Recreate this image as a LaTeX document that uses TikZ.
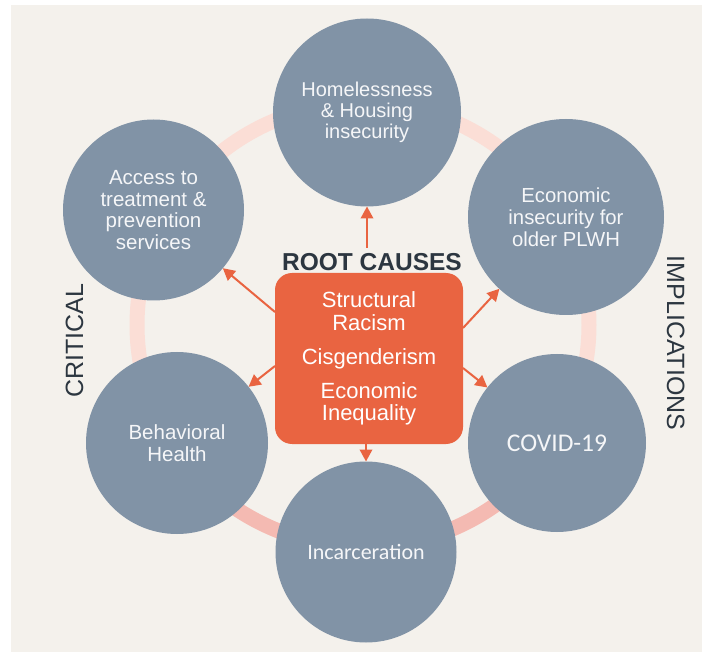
\documentclass[tikz,border=0pt]{standalone}
\usepackage{fontspec}
\setmainfont{Liberation Sans}
\newfontfamily\carlito{Carlito}
\usetikzlibrary{arrows.meta}
\definecolor{bgc}{RGB}{244,241,236}
\definecolor{slate}{RGB}{129,147,166}
\definecolor{orng}{RGB}{233,100,65}
\definecolor{ringl}{RGB}{251,222,214}
\definecolor{ringd}{RGB}{244,186,178}
\definecolor{dtext}{RGB}{44,54,64}
\definecolor{btext}{RGB}{245,246,248}
\begin{document}
\begin{tikzpicture}[x=1pt,y=-1pt,
  bub/.style={circle, fill=slate, inner sep=0pt, outer sep=0pt, text=btext, align=center},
  arr/.style={draw=orng, line width=2pt, -{Triangle[length=12pt,width=12.5pt]}},
  sidelabel/.style={anchor=base, inner sep=0pt, text=dtext, font=\fontsize{25}{26}\selectfont},
]
\useasboundingbox (0,0) rectangle (702,652);
\fill[white] (0,0) rectangle (702,652);
\fill[bgc] (11,5) rectangle (702,652);
% ring
\coordinate (ringc) at (363,325);
\draw[ringl, line width=15pt] (ringc) ellipse [x radius=226, y radius=222];
\draw[ringd, line width=15pt] (ringc) ++(40:226 and 222) arc[start angle=40, end angle=140, x radius=226, y radius=222];
% circles
\node[bub, minimum size=188pt, font=\fontsize{20}{21}\selectfont] (home) at (367,112.5) {Homelessness\\\& Housing\\insecurity};
\node[bub, minimum size=181pt, font=\fontsize{20.5}{21.7}\selectfont] (acc) at (153.5,210) {Access to\\treatment \&\\prevention\\services};
\node[bub, minimum size=196pt, font=\fontsize{20.3}{22}\selectfont] (econ) at (566,217) {Economic\\insecurity for\\older PLWH};
\node[bub, minimum size=182pt, font=\fontsize{20.5}{22}\selectfont] (beh) at (177,443) {Behavioral\\Health};
\node[bub, minimum size=178pt, font=\carlito\fontsize{25.5}{26}\selectfont] (covid) at (557,443) {COVID-19};
\node[bub, minimum size=181pt, font=\carlito\fontsize{22}{24}\selectfont] (inc) at (366,552) {Incarceration};
% centre box
\node[fill=orng, rounded corners=17pt, minimum width=188pt, minimum height=171pt, inner sep=0pt, outer sep=0pt, text=white, align=center, font=\fontsize{22}{22.5}\selectfont] (box) at (369,358.5) {Structural\\Racism\\[11.5pt]Cisgenderism\\[11.5pt]Economic\\Inequality};
\node[anchor=base, inner sep=0pt, text=dtext, font=\bfseries\fontsize{24.5}{26}\selectfont] (rc) at (372,271) {ROOT CAUSES};
% side labels
\node[sidelabel, rotate=90] (crit) at (83,341) {CRITICAL};
\node[sidelabel, rotate=-90] (impl) at (667,343) {IMPLICATIONS};
% arrows
\draw[arr] (home |- rc.north) ++(0,-6) -- (home);
\draw[arr] (box.south -| inc) -- (inc);
\draw[arr] ([yshift=46.5pt]box.west) -- (acc);
\draw[arr] ([yshift=30.5pt]box.east) -- (econ);
\draw[arr] ([yshift=-7.5pt]box.west) -- (beh);
\draw[arr] ([yshift=-9.5pt]box.east) -- (covid);
\end{tikzpicture}
\end{document}
